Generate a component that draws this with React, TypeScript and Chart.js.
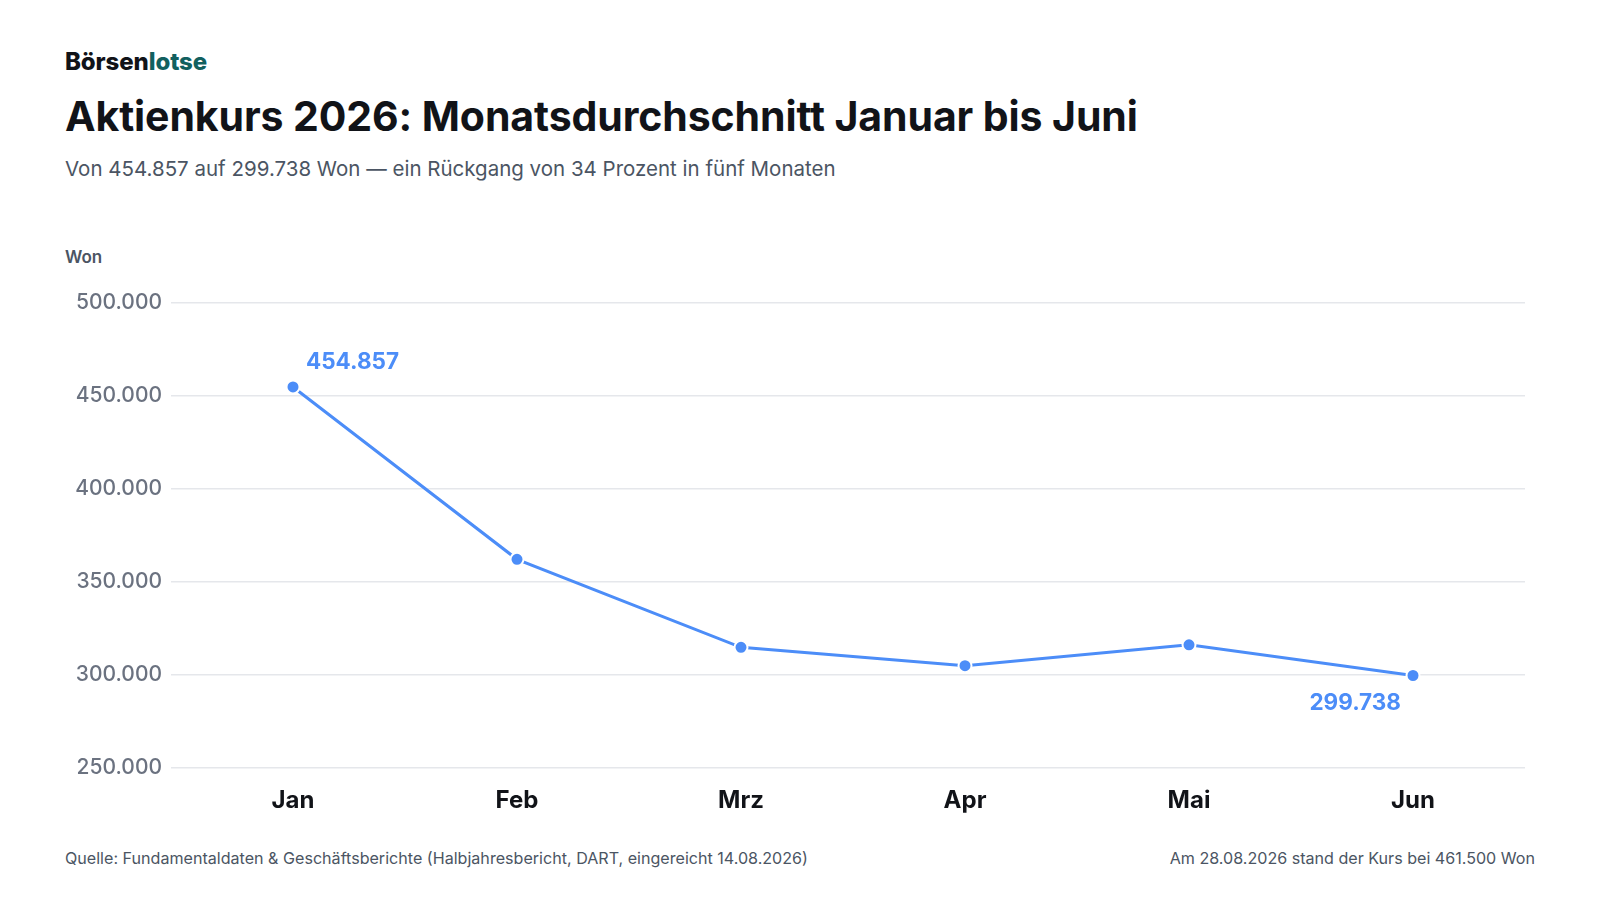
import React, { useEffect, useRef } from "react";
import { Chart, registerables } from "chart.js";

Chart.register(...registerables);

const months = ["Jan", "Feb", "Mrz", "Apr", "Mai", "Jun"];
const avgPrice = [454857, 362200, 314900, 305000, 316200, 299738];
const yMin = 250000;
const yMax = 500000;
const yStep = 50000;

const BLUE = "#4C8DF8";
const FONT = "Inter, 'Noto Sans', sans-serif";

const fmt = (v: number) => v.toLocaleString("de-DE");

const endLabels = {
  id: "endLabels",
  afterDatasetsDraw(chart: any) {
    const meta = chart.getDatasetMeta(0);
    const ctx = chart.ctx;
    const data = chart.data.datasets[0].data as number[];
    ctx.save();
    ctx.font = `700 22.5px ${FONT}`;
    ctx.fillStyle = BLUE;
    ctx.textBaseline = "alphabetic";
    const first = meta.data[0];
    ctx.textAlign = "left";
    ctx.fillText(fmt(data[0]), first.x + 13, first.y - 18);
    const li = data.length - 1;
    const last = meta.data[li];
    ctx.textAlign = "right";
    ctx.fillText(fmt(data[li]), last.x - 12, last.y + 35);
    ctx.restore();
  },
};

function LineChart() {
  const ref = useRef<HTMLCanvasElement | null>(null);
  useEffect(() => {
    if (!ref.current) return;
    const chart = new Chart(ref.current, {
      type: "line",
      data: {
        labels: months,
        datasets: [
          {
            data: avgPrice,
            borderColor: BLUE,
            backgroundColor: BLUE,
            borderWidth: 3,
            pointRadius: 6.5,
            pointHoverRadius: 6.5,
            pointBackgroundColor: BLUE,
            pointBorderColor: "#ffffff",
            pointBorderWidth: 2,
            tension: 0,
          },
        ],
      },
      options: {
        animation: false,
        responsive: false,
        maintainAspectRatio: false,
        devicePixelRatio: 1,
        layout: { padding: { top: 23, right: 75, left: 0, bottom: 0 } },
        plugins: { legend: { display: false }, tooltip: { enabled: false } },
        scales: {
          x: {
            offset: true,
            grid: { display: false },
            border: { display: false },
            ticks: {
              color: "#111318",
              font: { family: FONT, size: 24, weight: "700" },
              padding: 10,
            },
            afterFit: (s: any) => {
              s.height = 60;
            },
          },
          y: {
            min: yMin,
            max: yMax,
            border: { display: false },
            grid: { color: "#e5e7eb", lineWidth: 1.5, tickLength: 10, drawTicks: true },
            ticks: {
              stepSize: yStep,
              color: "#6b7280",
              padding: 9,
              font: { family: FONT, size: 21, weight: "500" },
              callback: (v: any) => fmt(Number(v)),
            },
            afterFit: (s: any) => {
              s.width = 181;
            },
          },
        },
      },
      plugins: [endLabels],
    });
    return () => chart.destroy();
  }, []);
  return (
    <canvas
      ref={ref}
      width={1600}
      height={548}
      style={{ position: "absolute", left: 0, top: 280, width: 1600, height: 548 }}
    />
  );
}

export default function App() {
  const txt = (top: number, size: number, extra: React.CSSProperties = {}): React.CSSProperties => ({
    position: "absolute",
    top,
    left: 65,
    fontSize: size,
    lineHeight: 1,
    fontFamily: FONT,
    whiteSpace: "nowrap",
    margin: 0,
    ...extra,
  });
  return (
    <div
      style={{
        position: "fixed",
        left: 0,
        top: 0,
        width: 1600,
        height: 900,
        background: "#ffffff",
        overflow: "hidden",
      }}
    >
      <div style={txt(50, 24, { fontWeight: 800, color: "#111318", letterSpacing: -0.1 })}>
        Börsen<span style={{ color: "#12605f" }}>lotse</span>
      </div>
      <div style={txt(96, 41, { fontWeight: 700, color: "#111318", letterSpacing: -0.1 })}>
        Aktienkurs 2026: Monatsdurchschnitt Januar bis Juni
      </div>
      <div style={txt(159, 20.5, { fontWeight: 400, color: "#4b5563" })}>
        Von 454.857 auf 299.738 Won — ein Rückgang von 34 Prozent in fünf Monaten
      </div>
      <div style={txt(249, 17, { fontWeight: 600, color: "#4b5563" })}>Won</div>
      <LineChart />
      <div style={txt(850, 16.1, { fontWeight: 400, color: "#4b5563" })}>
        Quelle: Fundamentaldaten &amp; Geschäftsberichte (Halbjahresbericht, DART, eingereicht 14.08.2026)
      </div>
      <div style={txt(850, 16.1, { fontWeight: 400, color: "#4b5563", left: undefined, right: 65 })}>
        Am 28.08.2026 stand der Kurs bei 461.500 Won
      </div>
    </div>
  );
}
